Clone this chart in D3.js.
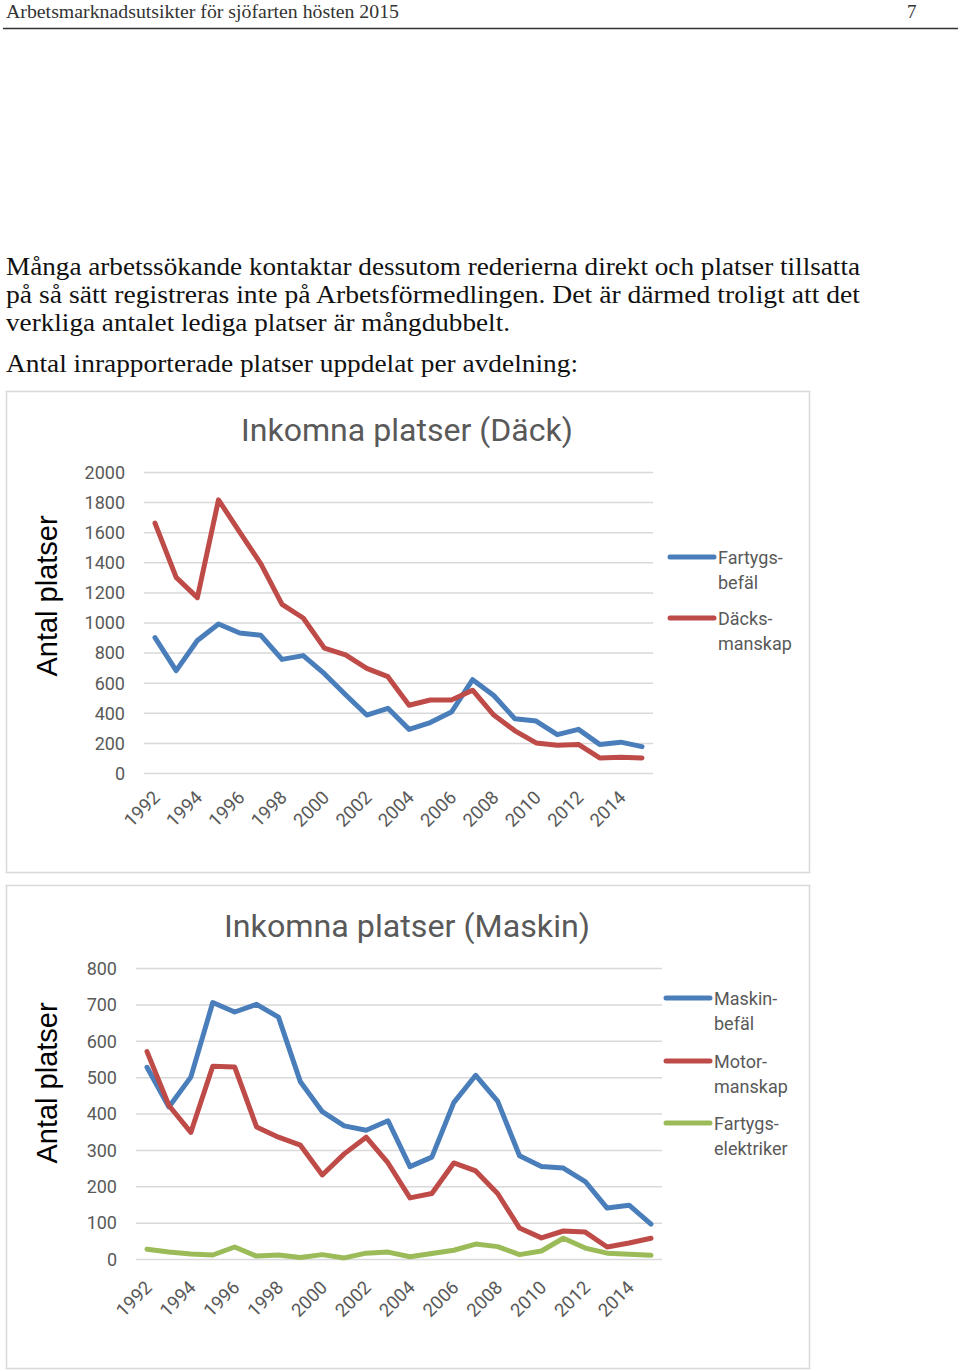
<!DOCTYPE html>
<html>
<head>
<meta charset="utf-8">
<script src="https://cdn.jsdelivr.net/npm/d3@7"></script>
<style>
  html, body { margin: 0; padding: 0; background: #fff; }
  svg { display: block; }
</style>
</head>
<body>
<svg id="page" width="960" height="1371"></svg>
<script>
// ---------- DATA ----------
const years = [1992,1993,1994,1995,1996,1997,1998,1999,2000,2001,2002,2003,2004,2005,2006,2007,2008,2009,2010,2011,2012,2013,2014,2015];
const yearLabels = ["1992","1994","1996","1998","2000","2002","2004","2006","2008","2010","2012","2014"];

const fartygsbefal  = [900,680,880,990,930,915,755,780,660,520,385,430,290,335,405,620,515,360,345,255,290,190,205,175];
const dacksmanskap  = [1660,1300,1165,1815,1600,1390,1120,1030,830,785,695,640,450,485,485,550,385,280,200,185,190,100,105,100];

const maskinbefal       = [527,418,500,705,679,700,665,487,405,366,354,380,254,280,430,505,434,284,254,250,213,140,148,96];
const motormanskap      = [570,422,348,530,528,363,335,313,231,289,335,264,168,180,264,242,180,85,58,77,74,33,44,57];
const fartygselektriker = [27,19,14,11,33,8,11,4,12,3,16,19,6,15,24,41,34,12,22,57,30,16,13,10];

const dackTicks   = [0,200,400,600,800,1000,1200,1400,1600,1800,2000];
const maskinTicks = [0,100,200,300,400,500,600,700,800];

const headerText = "Arbetsmarknadsutsikter för sjöfarten hösten 2015";
const pageNumber = "7";
const paragraph = [
  "Många arbetssökande kontaktar dessutom rederierna direkt och platser tillsatta",
  "på så sätt registreras inte på Arbetsförmedlingen. Det är därmed troligt att det",
  "verkliga antalet lediga platser är mångdubbelt."
];
const intro = "Antal inrapporterade platser uppdelat per avdelning:";

const COLORS = { blue: "#4a7ebb", red: "#be4b48", green: "#9bbb59" };

// ---------- PAGE ----------
const svg = d3.select("#page");
svg.append("rect").attr("width", 960).attr("height", 1371).attr("fill", "#fff");

const serif = "'Liberation Serif', 'DejaVu Serif', serif";
svg.append("text").text(headerText)
  .attr("x", 6).attr("y", 18)
  .attr("font-family", serif).attr("font-size", 19)
  .attr("textLength", 393).attr("lengthAdjust", "spacingAndGlyphs")
  .attr("fill", "#333");
svg.append("text").text(pageNumber)
  .attr("x", 907).attr("y", 18)
  .attr("font-family", serif).attr("font-size", 19).attr("fill", "#333");
svg.append("line").attr("x1", 3).attr("x2", 958).attr("y1", 28.5).attr("y2", 28.5)
  .attr("stroke", "#333").attr("stroke-width", 1.5);

const paraLens = [854, 854, 504];
const paraY = [275, 303, 331];
paragraph.forEach((t, i) => {
  svg.append("text").text(t)
    .attr("x", 6).attr("y", paraY[i])
    .attr("font-family", serif).attr("font-size", 26)
    .attr("textLength", paraLens[i]).attr("lengthAdjust", "spacingAndGlyphs")
    .attr("fill", "#111");
});
svg.append("text").text(intro)
  .attr("x", 6).attr("y", 372)
  .attr("font-family", serif).attr("font-size", 26)
  .attr("textLength", 572).attr("lengthAdjust", "spacingAndGlyphs")
  .attr("fill", "#111");

// ---------- CHART FACTORY ----------
const chartFont = "Roboto, 'Open Sans', sans-serif";

function drawChart(cfg) {
  const g = svg.append("g");
  // frame
  g.append("rect")
    .attr("x", cfg.frame[0] + 0.5).attr("y", cfg.frame[1] + 0.5)
    .attr("width", cfg.frame[2]).attr("height", cfg.frame[3])
    .attr("fill", "#fff").attr("stroke", "#d9d9d9").attr("stroke-width", 1.5);

  // title
  g.append("text").text(cfg.title)
    .attr("x", cfg.titleX).attr("y", cfg.titleY)
    .attr("text-anchor", "middle")
    .attr("font-family", chartFont).attr("font-size", 31)
    .attr("textLength", cfg.titleLen).attr("lengthAdjust", "spacingAndGlyphs")
    .attr("fill", "#595959");

  const x = d3.scalePoint().domain(years).range(cfg.xRange);
  const y = d3.scaleLinear().domain([0, cfg.yMax]).range(cfg.yRange);

  // grid
  const yAxis = d3.axisLeft(y).tickValues(cfg.ticks).tickFormat(d3.format("d"))
    .tickSize(-(cfg.gridX[1] - cfg.gridX[0])).tickPadding(0);
  const ax = g.append("g")
    .attr("transform", `translate(${cfg.gridX[0]},0)`)
    .call(yAxis);
  ax.select(".domain").remove();
  ax.selectAll(".tick line").attr("stroke", "#d9d9d9").attr("stroke-width", 1.5);
  ax.selectAll(".tick text")
    .attr("x", cfg.tickLabelX - cfg.gridX[0])
    .attr("dy", "0.35em")
    .attr("font-family", chartFont).attr("font-size", 18)
    .attr("fill", "#595959");

  // x labels
  const xAxis = d3.axisBottom(x).tickValues(yearLabels.map(Number)).tickSize(0).tickFormat(d3.format("d"));
  const xa = g.append("g").attr("transform", `translate(0,${cfg.xLabelY})`).call(xAxis);
  xa.select(".domain").remove();
  xa.selectAll(".tick text")
    .attr("text-anchor", "end")
    .attr("x", 0).attr("y", 0).attr("dy", "0.35em")
    .attr("transform", "translate(1,3) rotate(-45)")
    .attr("font-family", chartFont).attr("font-size", 18.5)
    .attr("fill", "#595959");

  // y axis title
  g.append("text").text("Antal platser")
    .attr("transform", `translate(${cfg.axisTitleX},${cfg.axisTitleY}) rotate(-90)`)
    .attr("text-anchor", "middle")
    .attr("font-family", "'Liberation Sans', Arial, sans-serif").attr("font-size", 29)
    .attr("fill", "#000");

  // lines
  const line = d3.line().x((d, i) => x(years[i])).y(d => y(d));
  cfg.series.forEach(s => {
    g.append("path").datum(s.values)
      .attr("d", line)
      .attr("fill", "none")
      .attr("stroke", s.color).attr("stroke-width", 5)
      .attr("stroke-linejoin", "round").attr("stroke-linecap", "round");
  });

  // legend
  cfg.series.forEach((s, i) => {
    const ly = cfg.legendY[i];
    g.append("line")
      .attr("x1", cfg.legendX).attr("x2", cfg.legendX + 44)
      .attr("y1", ly).attr("y2", ly)
      .attr("stroke", s.color).attr("stroke-width", 5).attr("stroke-linecap", "round");
    s.label.forEach((t, j) => {
      g.append("text").text(t)
        .attr("x", cfg.legendX + 48).attr("y", ly + 7 + j * 25)
        .attr("font-family", chartFont).attr("font-size", 18)
        .attr("fill", "#595959");
    });
  });
}

drawChart({
  frame: [6, 391, 803, 481],
  title: "Inkomna platser (Däck)", titleX: 407, titleY: 441, titleLen: 332,
  xRange: [155, 642], yMax: 2000, yRange: [773, 472],
  ticks: dackTicks, gridX: [144, 653], tickLabelX: 125,
  xLabelY: 791,
  axisTitleX: 57, axisTitleY: 596,
  legendX: 670, legendY: [557, 618],
  series: [
    { values: fartygsbefal, color: COLORS.blue, label: ["Fartygs-", "befäl"] },
    { values: dacksmanskap, color: COLORS.red, label: ["Däcks-", "manskap"] }
  ]
});

drawChart({
  frame: [6, 885, 803, 483],
  title: "Inkomna platser (Maskin)", titleX: 407, titleY: 937, titleLen: 366,
  xRange: [147, 651], yMax: 800, yRange: [1259, 968],
  ticks: maskinTicks, gridX: [136, 662], tickLabelX: 117,
  xLabelY: 1281,
  axisTitleX: 57, axisTitleY: 1083,
  legendX: 666, legendY: [998, 1061, 1123],
  series: [
    { values: maskinbefal, color: COLORS.blue, label: ["Maskin-", "befäl"] },
    { values: motormanskap, color: COLORS.red, label: ["Motor-", "manskap"] },
    { values: fartygselektriker, color: COLORS.green, label: ["Fartygs-", "elektriker"] }
  ]
});
</script>
</body>
</html>
